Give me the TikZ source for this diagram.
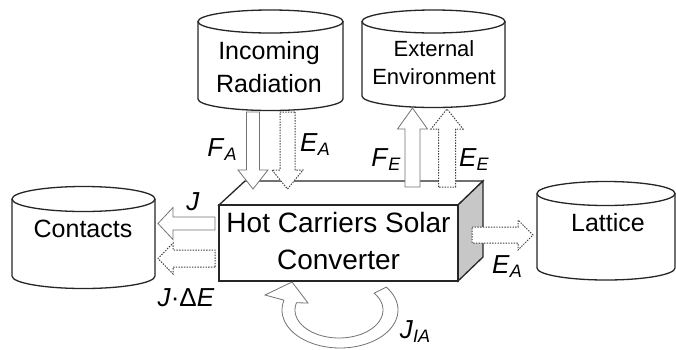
\documentclass[tikz,border=0pt]{standalone}
\usepackage{fontspec}
\setmainfont{Liberation Sans}
\usetikzlibrary{calc}
\newcommand\blockarr[6]{%
  \coordinate (hb) at ($(#3)!#6!(#2)$);
  \draw[#1] ($(#2)!#4!90:(#3)$) -- ($(hb)!#4!90:(#3)$) -- ($(hb)!#5!90:(#3)$) -- (#3)
    -- ($(hb)!#5!-90:(#3)$) -- ($(hb)!#4!-90:(#3)$) -- ($(#2)!#4!-90:(#3)$) -- cycle;}
\newcommand\mycyl[5]{%
  \draw[cylline] (#1-#2,#3) -- (#1-#2,#4) arc[start angle=180,end angle=360,x radius=#2pt,y radius=#5pt] -- (#1+#2,#3);
  \draw[cylline] (#1,#3) ellipse[x radius=#2pt,y radius=#5pt];}
\newcommand\lab[2]{\textit{#1}\raisebox{-4pt}{\fontsize{18}{18}\selectfont\textit{#2}}}
\tikzset{
  cylline/.style={draw=black!85, line width=1.3pt, fill=white},
  boxline/.style={draw=black!85, line width=1.3pt, line join=miter},
  solidarr/.style={draw=black!55, line width=0.8pt, fill=white, line join=miter},
  dotarr/.style={draw=black!75, line width=1pt, fill=white, dash pattern=on 1.4pt off 1.3pt},
  bigtxt/.style={align=center, font=\fontsize{25}{33}\selectfont},
  labtxt/.style={font=\fontsize{26}{26}\selectfont, inner sep=0pt}
}
\begin{document}
\begin{tikzpicture}[x=1pt,y=-1pt]
\useasboundingbox[fill=white] (0,0) rectangle (676,349);
% cylinders
\mycyl{270.5}{72.5}{21.5}{99}{11.5}
\mycyl{433.5}{71.5}{21.5}{96}{11.5}
\mycyl{83.5}{71.5}{199}{276}{12.5}
\mycyl{606}{69}{193.5}{268}{12}
\node[bigtxt] (rad) at (269,67.5) {Incoming\\Radiation};
\node[align=center, font=\fontsize{22}{28}\selectfont] (env) at (434,63) {External\\Environment};
\node[bigtxt] (con) at (83,229) {Contacts};
\node[bigtxt] (lat) at (608,223) {Lattice};
% 3D box
\draw[boxline, fill=white] (219,205) -- (245,181) -- (483,181) -- (458,205) -- cycle;
\draw[boxline, fill=black!22] (458,205) -- (483,181) -- (483,257) -- (458,281) -- cycle;
\draw[boxline, fill=white] (219,205) rectangle (458,281);
\node[align=center, font=\fontsize{28}{36.5}\selectfont] (hc) at (338.5,241) {Hot Carriers Solar\\Converter};
% arrow end points
\coordinate (fa1) at (253,112); \coordinate (fa2) at (253,189);
\coordinate (ea1) at (287.5,112); \coordinate (ea2) at (287.5,189);
\coordinate (fe1) at (412.5,187); \coordinate (fe2) at (412.5,108);
\coordinate (ee1) at (447,187); \coordinate (ee2) at (447,109);
\coordinate (j1) at (215,223.5); \coordinate (j2) at (158,223.5);
\coordinate (je1) at (215,258.5); \coordinate (je2) at (158,258.5);
\coordinate (el1) at (472,235); \coordinate (el2) at (533,235);
\blockarr{solidarr}{fa1}{fa2}{6.5pt}{15pt}{19pt}
\blockarr{dotarr}{ea1}{ea2}{7.5pt}{15.5pt}{19pt}
\blockarr{solidarr}{fe1}{fe2}{7.5pt}{15pt}{21pt}
\blockarr{dotarr}{ee1}{ee2}{8.5pt}{16pt}{20pt}
\blockarr{solidarr}{j1}{j2}{6.5pt}{16pt}{15pt}
\blockarr{dotarr}{je1}{je2}{8.5pt}{15.5pt}{15pt}
\blockarr{dotarr}{el1}{el2}{8pt}{15pt}{15pt}
% curved arrow J_IA
\draw[solidarr] plot[domain=-37:195, samples=50] ({340+58*cos(\x)},{310+38*sin(\x)})
  -- (265,295) -- (292,282) -- (308,303)
  -- plot[domain=195:-37, samples=50] ({339+44*cos(\x)},{310+28*sin(\x)}) -- cycle;
% labels
\node[labtxt] (lfa) at (222,150) {\lab{F}{A}};
\node[labtxt] (lea) at (315,145) {\lab{E}{A}};
\node[labtxt] (lfe) at (386,160) {\lab{F}{E}};
\node[labtxt] (lee) at (474,160) {\lab{E}{E}};
\node[labtxt] (lj) at (193,202) {\textit{J}};
\node[labtxt] (lje) at (186,298) {\textit{J}·Δ\textit{E}};
\node[labtxt] (lel) at (507,267) {\lab{E}{A}};
\node[labtxt] (lji) at (415,332) {\lab{J}{IA}};
\end{tikzpicture}
\end{document}
